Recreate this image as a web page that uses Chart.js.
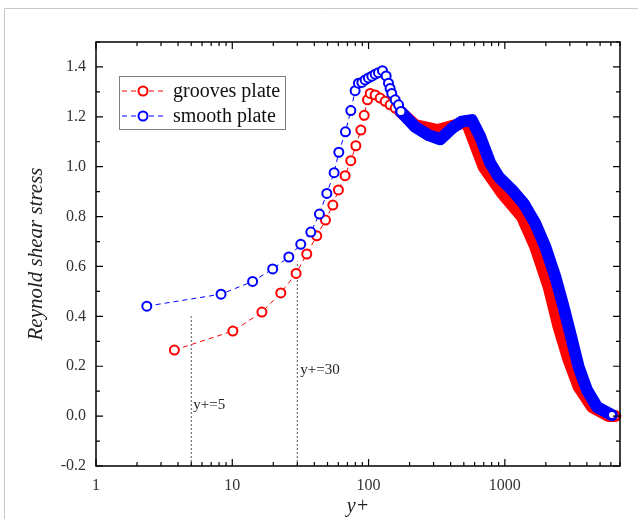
<!DOCTYPE html>
<html lang="en">
<head>
<meta charset="UTF-8">
<title>Reynold shear stress</title>
<script src="https://cdn.jsdelivr.net/npm/chart.js@4.4.1/dist/chart.umd.min.js"></script>
<style>
  html, body { margin: 0; padding: 0; background: #fff; }
</style>
</head>
<body>
<canvas id="myChart" width="638" height="519"></canvas>
<script>
// values (y+ is on a log axis)
const xTicks = [1, 10, 100, 1000];
const yTicks = [-0.2, 0.0, 0.2, 0.4, 0.6, 0.8, 1.0, 1.2, 1.4];

// grooves plate: single markers near the wall, then the dense band
const grooveX = [3.76, 10.1, 16.5, 22.7, 29.4, 35.2, 41.7, 48.3, 54.7, 60.1, 67.3, 74.1, 80.7, 87.8, 92.9, 98.2, 102.8, 111.8, 121.6, 132.4, 144, 156.8, 170.6];
const grooveY = [0.265, 0.341, 0.417, 0.494, 0.572, 0.65, 0.723, 0.786, 0.846, 0.907, 0.964, 1.024, 1.084, 1.147, 1.206, 1.268, 1.294, 1.288, 1.275, 1.262, 1.248, 1.235, 1.221];
const grooveTailX = [170.6, 219.8, 322.6, 484, 521, 698, 952, 1336, 1672, 2094, 2478, 2937, 3476, 4361, 5770, 6470];
const grooveTailY = [1.221, 1.167, 1.147, 1.174, 1.183, 1.0, 0.894, 0.799, 0.679, 0.519, 0.358, 0.225, 0.118, 0.037, 0.0, 0.0];

// smooth plate
const smoothX = [2.36, 8.27, 14.1, 19.8, 26.0, 31.8, 37.7, 43.6, 49.4, 55.9, 60.5, 67.7, 74.1, 79.7, 84.3, 89.3, 94.4, 99.8, 105.7, 111.8, 118.2, 126.5, 134.6, 140, 144, 148, 156.8, 166, 172.7];
const smoothY = [0.441, 0.489, 0.540, 0.590, 0.638, 0.689, 0.738, 0.81, 0.893, 0.976, 1.058, 1.14, 1.225, 1.305, 1.335, 1.338, 1.348, 1.356, 1.363, 1.371, 1.377, 1.385, 1.364, 1.335, 1.314, 1.294, 1.268, 1.248, 1.221];
const smoothTailX = [172.7, 219.8, 275.4, 335.6, 409, 484, 573, 660, 781, 899, 1128, 1371, 1672, 1982, 2344, 2698, 3020, 3476, 4009, 4746, 6113];
const smoothTailY = [1.221, 1.160, 1.127, 1.110, 1.154, 1.181, 1.187, 1.120, 1.014, 0.960, 0.907, 0.853, 0.773, 0.679, 0.559, 0.438, 0.332, 0.198, 0.104, 0.037, 0.004];

// y+=5 and y+=30 guide lines
const guide5X = [5, 5];
const guide5Y = [-0.2, 0.4];
const guide30X = [30, 30];
const guide30Y = [-0.2, 0.62];

const seriesNames = ['grooves plate', 'smooth plate'];
const seriesColors = ['#ff0000', '#0000ff'];

const pts = (xs, ys) => xs.map((x, i) => ({x: x, y: ys[i]}));
const serif = "'Liberation Serif', 'DejaVu Serif', serif";

const markerSet = (name, xs, ys, color, order) => ({
    label: name, data: pts(xs, ys), showLine: true,
    borderColor: color, borderWidth: 1, borderDash: [5, 4],
    pointRadius: 4.5, pointBorderWidth: 2, pointBorderColor: color,
    pointBackgroundColor: '#fff', order: order, clip: false
});
const tailSet = (xs, ys, color, order) => ({
    label: '', data: pts(xs, ys), showLine: true,
    borderColor: color, borderWidth: 12, tension: 0,
    borderJoinStyle: 'round', borderCapStyle: 'round',
    pointRadius: c => c.dataIndex === xs.length - 1 ? 4 : 0,
    pointBorderWidth: 2, pointBorderColor: color, pointBackgroundColor: '#fff',
    order: order, clip: false
});
const guideSet = (xs, ys) => ({
    label: '', data: pts(xs, ys), showLine: true,
    borderColor: '#555', borderWidth: 1, borderDash: [2, 2],
    pointRadius: 0, order: 9
});

// box, inward ticks, outer frame, legend and notes
const decorations = {
    id: 'decorations',
    beforeDraw(chart) {
        const c = chart.ctx;
        c.save();
        c.strokeStyle = '#c8c8c8';
        c.lineWidth = 1;
        c.beginPath();
        c.moveTo(4.5, chart.height);
        c.lineTo(4.5, 8.5);
        c.lineTo(chart.width, 8.5);
        c.stroke();
        c.restore();
    },
    afterDatasetsDraw(chart) {
        const c = chart.ctx, a = chart.chartArea;
        const xs = chart.scales.x, ys = chart.scales.y;
        c.save();
        c.strokeStyle = '#000';
        c.lineWidth = 1.5;
        c.strokeRect(a.left, a.top, a.right - a.left, a.bottom - a.top);
        c.lineWidth = 1.2;
        c.beginPath();
        for (let d = 1; d <= 1000; d *= 10) {
            for (let k = 1; k <= 9; k++) {
                const v = d * k;
                if (v > 7000) break;
                const px = xs.getPixelForValue(v), len = k === 1 ? 7 : 4;
                c.moveTo(px, a.bottom); c.lineTo(px, a.bottom - len);
                c.moveTo(px, a.top); c.lineTo(px, a.top + len);
            }
        }
        for (let i = -2; i <= 15; i++) {
            const py = ys.getPixelForValue(i / 10), len = i % 2 === 0 ? 7 : 4;
            c.moveTo(a.left, py); c.lineTo(a.left + len, py);
            c.moveTo(a.right, py); c.lineTo(a.right - len, py);
        }
        c.stroke();

        // notes beside the guide lines
        c.fillStyle = '#222';
        c.font = '15px ' + serif;
        c.textBaseline = 'middle';
        c.fillText('y+=5', xs.getPixelForValue(5) + 2, ys.getPixelForValue(0.044));
        c.fillText('y+=30', xs.getPixelForValue(30) + 3, ys.getPixelForValue(0.185));

        // legend
        c.fillStyle = '#fff';
        c.fillRect(119.5, 76.5, 166, 53);
        c.strokeStyle = '#808080';
        c.lineWidth = 1;
        c.strokeRect(119.5, 76.5, 166, 53);
        seriesNames.forEach((name, i) => {
            const y = 91 + i * 25;
            c.strokeStyle = seriesColors[i];
            c.lineWidth = 1;
            c.setLineDash([5, 4]);
            c.beginPath(); c.moveTo(122, y); c.lineTo(167, y); c.stroke();
            c.setLineDash([]);
            c.lineWidth = 2;
            c.beginPath(); c.arc(143, y, 4.5, 0, Math.PI * 2);
            c.fillStyle = '#fff'; c.fill(); c.stroke();
            c.fillStyle = '#111';
            c.font = '20px ' + serif;
            c.textBaseline = 'middle';
            c.fillText(name, 173, y + 1);
        });
        c.restore();
    }
};

new Chart(document.getElementById('myChart'), {
    type: 'scatter',
    data: {
        datasets: [
            markerSet(seriesNames[0], grooveX, grooveY, seriesColors[0], 3),
            tailSet(grooveTailX, grooveTailY, seriesColors[0], 4),
            markerSet(seriesNames[1], smoothX, smoothY, seriesColors[1], 1),
            tailSet(smoothTailX, smoothTailY, seriesColors[1], 2),
            guideSet(guide5X, guide5Y),
            guideSet(guide30X, guide30Y)
        ]
    },
    options: {
        responsive: false,
        animation: false,
        layout: { padding: { top: 42, right: 18, left: 0, bottom: 0 } },
        plugins: { legend: { display: false }, tooltip: { enabled: false } },
        scales: {
            x: {
                type: 'logarithmic', min: 1, max: 7000,
                grid: { display: false, drawTicks: false }, border: { display: false },
                afterBuildTicks: s => { s.ticks = xTicks.map(v => ({value: v})); },
                afterFit: s => { s.height = 53; },
                ticks: { autoSkip: false, maxRotation: 0, padding: 10, color: '#333',
                    font: { family: serif, size: 16 }, callback: v => String(v) },
                title: { display: true, text: 'y+', color: '#222', padding: 0,
                    font: { family: serif, size: 20, style: 'italic' } }
            },
            y: {
                min: -0.2, max: 1.5,
                grid: { display: false, drawTicks: false }, border: { display: false },
                afterBuildTicks: s => { s.ticks = yTicks.map(v => ({value: v})); },
                afterFit: s => { s.width = 96; },
                ticks: { padding: 10, color: '#333',
                    font: { family: serif, size: 16 }, callback: v => v.toFixed(1) },
                title: { display: true, text: 'Reynold shear stress', color: '#222',
                    padding: { top: 24, bottom: 0 },
                    font: { family: serif, size: 21, style: 'italic' } }
            }
        }
    },
    plugins: [decorations]
});
</script>
</body>
</html>
